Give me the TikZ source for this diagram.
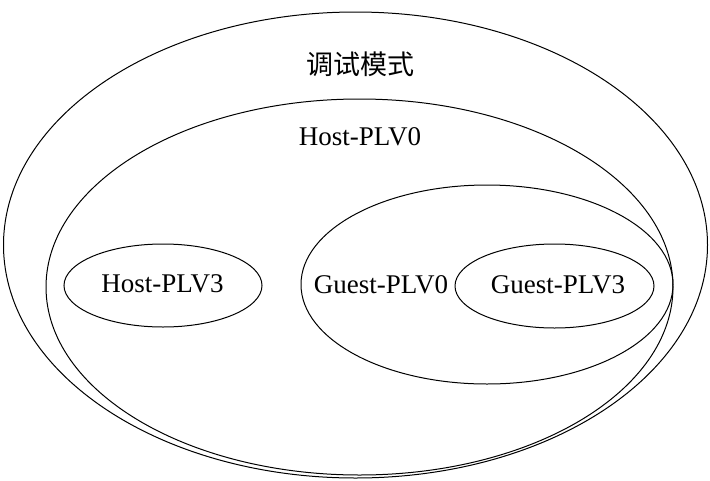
\documentclass[tikz,border=0pt]{standalone}
\usepackage{fontspec}
\setmainfont{Liberation Serif}
\newfontfamily\cjkfont{Noto Sans CJK SC}
\tikzset{
	mode/.style={draw=black, line width=1pt},
	lbl/.style={black, inner sep=0pt, font=\fontsize{27}{32}\selectfont},
}
\begin{document}
\begin{tikzpicture}[x=1pt, y=-1pt]
	\useasboundingbox (0,0) rectangle (710,480);

	\draw[mode] (355.5,245) ellipse [x radius=352pt, y radius=233pt];
	\draw[mode] (359.5,287) ellipse [x radius=313.5pt, y radius=188pt];
	\draw[mode] (487,284.5) ellipse [x radius=186pt, y radius=99.5pt];
	\draw[mode] (554.5,286) ellipse [x radius=99.5pt, y radius=42pt];
	\draw[mode] (163,285.5) ellipse [x radius=99pt, y radius=41.5pt];

	\node[lbl] (debug) at (360,64) {\cjkfont 调试模式};
	\node[lbl] (hostzero) at (360,137) {Host-PLV0};
	\node[lbl] (hostthree) at (162.5,284) {Host-PLV3};
	\node[lbl] (guestzero) at (381,285) {Guest-PLV0};
	\node[lbl] (guestthree) at (558,285) {Guest-PLV3};
\end{tikzpicture}
\end{document}
